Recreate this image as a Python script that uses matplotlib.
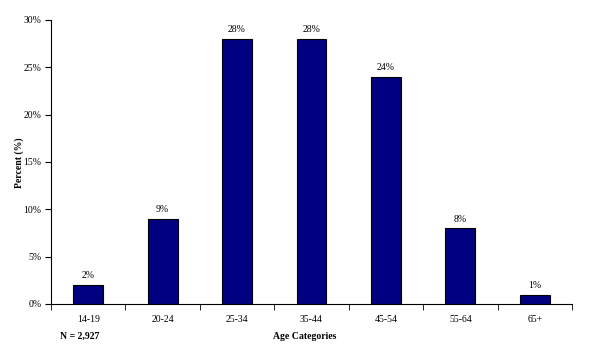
import matplotlib
matplotlib.use('Agg')
import matplotlib.pyplot as plt
import numpy as np

# Age distribution data
categories = ['14-19', '20-24', '25-34', '35-44', '45-54', '55-64', '65+']
percents = [2, 9, 28, 28, 24, 8, 1]
y_ticks = [0, 5, 10, 15, 20, 25, 30]

plt.rcParams['font.family'] = ['Liberation Serif', 'DejaVu Serif']

fig = plt.figure(figsize=(5.9, 3.49), dpi=100)
ax = fig.add_axes([0.0864, 0.129, 0.8831, 0.8137])

x = np.arange(len(categories))
ax.bar(x, percents, width=0.4, color='#000080', edgecolor='black', linewidth=0.8)

for xi, p in zip(x, percents):
    ax.text(xi, p + 0.5, f'{p}%', ha='center', va='bottom', fontsize=7)

ax.set_xlim(-0.5, len(categories) - 0.5)
ax.set_ylim(0, 30)
ax.set_yticks(y_ticks)
ax.set_yticklabels([f'{t}%' for t in y_ticks], fontsize=7)

# category labels centred, tick marks between categories
ax.set_xticks(x)
ax.set_xticklabels(categories, fontsize=7)
ax.tick_params(axis='x', which='major', length=0, pad=8)
ax.set_xticks(np.arange(-0.5, len(categories)), minor=True)
ax.tick_params(axis='x', which='minor', length=4, direction='out')
ax.tick_params(axis='y', length=4, direction='out', pad=3)

for s in ['top', 'right']:
    ax.spines[s].set_visible(False)

# axis titles placed as in the original figure
fig.text(0.032, 0.535, 'Percent (%)', rotation=90, ha='center', va='center',
         fontsize=7, fontweight='bold')
fig.text(0.517, 0.035, 'Age Categories', ha='center', va='center', fontsize=7, fontweight='bold')
fig.text(0.135, 0.035, 'N = 2,927', ha='center', va='center', fontsize=7, fontweight='bold')

fig.savefig('out.png', dpi=100)
